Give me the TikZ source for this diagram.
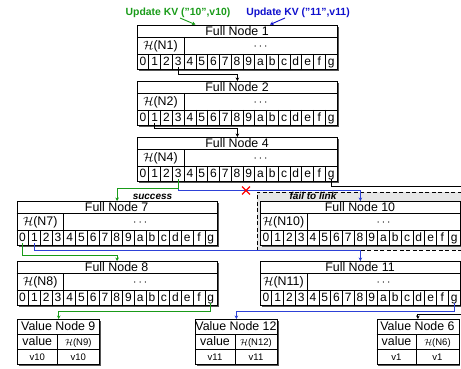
\documentclass[tikz,border=0pt]{standalone}
\usepackage{fontspec}
\setmainfont{Liberation Sans}
\usetikzlibrary{arrows.meta,shapes.misc,shadows}
\definecolor{kvgreen}{RGB}{25,155,25}
\definecolor{kvblue}{RGB}{15,15,205}
\definecolor{lnblue}{RGB}{45,65,215}
\definecolor{shade}{RGB}{85,85,85}
\definecolor{failbg}{RGB}{230,230,230}
\def\cw{11.7647}
\tikzset{
  box/.style={draw=black, line width=0.8pt, fill=white, inner sep=0pt, anchor=north west,
    drop shadow={shadow xshift=1.5pt, shadow yshift=-1.5pt, fill=shade, opacity=1}},
  fullbox/.style={box, minimum width=200pt, minimum height=44pt},
  valbox/.style={box, minimum width=82pt, minimum height=45pt},
  gridln/.style={line width=0.6pt},
  lbl/.style={font=\fontsize{12.4}{14}\selectfont, inner sep=0pt, anchor=base},
  dig/.style={font=\fontsize{12}{13}\selectfont, inner sep=0pt, anchor=base},
  smalllbl/.style={font=\fontsize{9.5}{11}\selectfont, inner sep=0pt, anchor=base},
  tag/.style={font=\fontsize{10}{12}\selectfont\bfseries\itshape, inner sep=0pt, anchor=base},
  upd/.style={font=\fontsize{10.4}{12}\selectfont\bfseries, inner sep=0pt, anchor=base},
  conn/.style={line width=1pt, -{Stealth[length=3.5pt,width=3.6pt]}},
  failframe/.style={draw=black, dashed, dash pattern=on 4pt off 2.5pt, line width=0.9pt,
    fill=failbg, inner sep=0pt, anchor=north west},
}
\newcommand\FullNode[5]{%
  \node[fullbox] (#1) at (#2,#3) {};
  \draw[gridln] ({#2},{#3+12}) -- ++(200,0);
  \draw[gridln] ({#2},{#3+29}) -- ++(200,0);
  \draw[gridln] ({#2+4*\cw},{#3+12}) -- ++(0,17);
  \node[lbl] at ({#2+100},{#3+10.4}) {#4};
  \node[lbl] at ({#2+2*\cw},{#3+24.9}) {$\mathcal{H}$(#5)};
  \node[lbl] at ({#2+10.5*\cw},{#3+24.9}) {$\cdots$};
  \foreach \d [count=\i from 0] in {0,1,2,3,4,5,6,7,8,9,a,b,c,d,e,f,g}{
    \ifnum\i>0 \draw[gridln] ({#2+\i*\cw},{#3+29}) -- ++(0,15);\fi
    \node[dig] at ({#2+(\i+0.5)*\cw},{#3+40.8}) {\d};
    \coordinate (#1-\d) at ({#2+(\i+0.5)*\cw},{#3+42});
  }
}
\newcommand\ValNode[6]{%
  \node[valbox] (#1) at (#2,#3) {};
  \draw[gridln] ({#2},{#3+15}) -- ++(82,0);
  \draw[gridln] ({#2},{#3+30}) -- ++(82,0);
  \draw[gridln] ({#2+40},{#3+15}) -- ++(0,30);
  \node[lbl] at ({#2+41},{#3+11.9}) {#4};
  \node[lbl] at ({#2+20},{#3+26.9}) {value};
  \node[smalllbl] at ({#2+61},{#3+26.3}) {$\mathcal{H}$(#5)};
  \node[smalllbl] at ({#2+20},{#3+41.4}) {#6};
  \node[smalllbl] at ({#2+61},{#3+41.4}) {#6};
}
\begin{document}
\begin{tikzpicture}[x=1pt,y=-1pt]
\useasboundingbox (0,0) rectangle (461,369);
% update labels
\node[upd, text=kvgreen] (upd10) at (178,15.7) {Update KV ("10",v10)};
\node[upd, text=kvblue] (upd11) at (298,15.7) {Update KV ("11",v11)};
% fail frame
\node[failframe, minimum width=220pt, minimum height=57.5pt] (failbox) at (256.5,192) {};
\node[tag] (failtxt) at (313,199.5) {fail to link};
% full nodes
\FullNode{n1}{137}{25}{Full Node 1}{N1}
\FullNode{n2}{137}{81}{Full Node 2}{N2}
\FullNode{n4}{137}{137}{Full Node 4}{N4}
\FullNode{n7}{16.7}{201}{Full Node 7}{N7}
\FullNode{n10}{260}{201}{Full Node 10}{N10}
\FullNode{n8}{16.7}{261}{Full Node 8}{N8}
\FullNode{n11}{260}{261}{Full Node 11}{N11}
% value nodes
\ValNode{v9}{17.3}{319}{Value Node 9}{N9}{v10}
\ValNode{v12}{195}{319}{Value Node 12}{N12}{v11}
\ValNode{v6}{376.5}{319}{Value Node 6}{N6}{v1}
% update arrows
\coordinate (g10s) at (180,18);
\coordinate (g10e) at (195.5,24.6);
\coordinate (b11s) at (285,18);
\coordinate (b11e) at (270,24.6);
\draw[conn, kvgreen, line width=0.9pt] (g10s) -- (g10e);
\draw[conn, kvblue, line width=0.9pt] (b11s) -- (b11e);
% connectors
\draw[conn] (n1-3) -- ++(0,7.5) -| (n2.north);
\draw[conn] (n2-1) -- ++(0,5.5) -| (n4.north);
\coordinate (offR1) at (466,186.5);
\coordinate (offR2) at (466,314.5);
\draw[line width=1pt] (n4-g) |- (offR1);
\draw[conn, lnblue] (n4-3) -- ++(0,11) -| (n10.north);
\draw[conn, kvgreen] (n4-3) -- ++(0,9.5) -| (n7.north);
\node[tag] (succ) at (152.5,199.5) {success};
\node[cross out, draw=red, line width=1.3pt, minimum size=6.5pt, inner sep=0pt] (xmark) at (246,190.5) {};
\draw[conn, lnblue] (n7-1) -- ++(0,7.5) -| (n11.north);
\draw[conn, kvgreen] (n7-0) -- ++(0,12) -| (n8.north);
\draw[conn, kvgreen] (n8-g) -- ++(0,8) -| (v9.north);
\draw[conn, lnblue] (n11-g) -- ++(0,8) -| (v12.north);
\draw[conn] (offR2) -| (v6.north);
\end{tikzpicture}
\end{document}
